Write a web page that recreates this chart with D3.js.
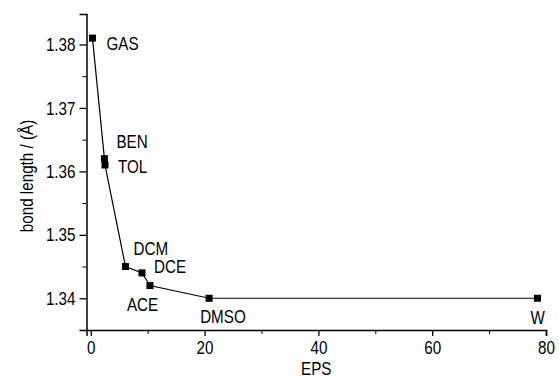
<!DOCTYPE html>
<html>
<head>
<meta charset="utf-8">
<script src="https://cdn.jsdelivr.net/npm/d3@7"></script>
<style>
   body { margin: 0; background: #fff; }
   svg text { font-family: "Liberation Sans", Arial, sans-serif; fill: #000; }
</style>
</head>
<body>
<div id="chart"></div>
<script>
// solvents, dielectric constant (eps) and bond length
const solvents = ["GAS", "BEN", "TOL", "DCM", "DCE", "ACE", "DMSO", "W"];
const eps = [0.3, 2.4, 2.5, 6.1, 9.0, 10.4, 20.8, 78.5];
const bondLength = [1.381, 1.362, 1.361, 1.345, 1.344, 1.342, 1.340, 1.340];

const xTicks = [0, 20, 40, 60, 80];
const xMinor = [10, 30, 50, 70];
const yTicks = [1.34, 1.35, 1.36, 1.37, 1.38];
const yMinor = [1.345, 1.355, 1.365, 1.375];

// label placement relative to each point (px)
const labelOffset = {
   GAS: [14, 12], BEN: [12, -11], TOL: [13, 8], DCM: [8, -12],
   DCE: [12, 0], ACE: [-23, 25], DMSO: [-9, 25], W: [-7, 26]
};

const width = 559;
const height = 378;
const margin = { top: 14, right: 13, bottom: 48, left: 86.5 };

const svg = d3.select("#chart")
   .append("svg")
   .attr("width", width)
   .attr("height", height);

const x = d3.scaleLinear()
   .domain([-0.75, 80])
   .range([margin.left, width - margin.right]);

const y = d3.scaleLinear()
   .domain([1.335, 1.3848])
   .range([height - margin.bottom, margin.top]);

const fontSize = "19px";

// the reference uses a condensed face; squeeze the glyphs instead
const narrow = (sel) => {
   sel.each(function () {
      const w = this.getComputedTextLength();
      d3.select(this).attr("textLength", w * 0.8).attr("lengthAdjust", "spacingAndGlyphs");
   });
}

const xAxis = (g) => {
   g.attr("transform", `translate(0,${height - margin.bottom})`)
      .call(d3.axisBottom(x).tickValues(xTicks).tickSize(6).tickPadding(5).tickFormat(d3.format("d")))
      .call(g => g.select(".domain").attr("stroke-width", 1.5))
      .call(g => g.selectAll(".tick line").attr("stroke-width", 1.3))
      .call(g => g.selectAll("text").style("font-size", fontSize));
}

const yAxis = (g) => {
   g.attr("transform", `translate(${margin.left},0)`)
      .call(d3.axisLeft(y).tickValues(yTicks).tickSize(7).tickPadding(4).tickFormat(d3.format(".2f")))
      .call(g => g.select(".domain").attr("stroke-width", 1.5))
      .call(g => g.selectAll(".tick line").attr("stroke-width", 1.3))
      .call(g => g.selectAll("text").style("font-size", fontSize));
}

svg.append("g")
   .attr("transform", `translate(0,${height - margin.bottom})`)
   .call(d3.axisBottom(x).tickValues(xMinor).tickSize(4).tickFormat(""))
   .call(g => g.select(".domain").remove());

svg.append("g")
   .attr("transform", `translate(${margin.left},0)`)
   .call(d3.axisLeft(y).tickValues(yMinor).tickSize(4).tickFormat(""))
   .call(g => g.select(".domain").remove());

svg.append("g").attr("class", "x-axis").call(xAxis);
svg.append("g").attr("class", "y-axis").call(yAxis);

svg.selectAll(".tick line").attr("stroke", "#000");
svg.selectAll(".domain").attr("stroke", "#000");

// axis titles
svg.append("text")
   .attr("x", (margin.left + width - margin.right) / 2)
   .attr("y", height - 3)
   .attr("text-anchor", "middle")
   .style("font-size", fontSize)
   .text("EPS");

svg.append("text")
   .attr("transform", `translate(33,${(margin.top + height - margin.bottom) / 2 + 4}) rotate(-90)`)
   .attr("text-anchor", "middle")
   .style("font-size", fontSize)
   .text("bond length / (Å)");

const points = solvents.map((s, i) => [x(eps[i]), y(bondLength[i]), s]);

svg.append("path")
   .datum(points)
   .attr("fill", "none")
   .attr("stroke", "#000")
   .attr("stroke-width", 1.2)
   .attr("d", d3.line());

const sq = 7;
svg.append("g")
   .selectAll("rect")
   .data(points)
   .join("rect")
   .attr("x", d => d[0] - sq / 2)
   .attr("y", d => d[1] - sq / 2)
   .attr("width", sq)
   .attr("height", sq)
   .attr("fill", "#000");

svg.append("g")
   .selectAll("text")
   .data(points)
   .join("text")
   .attr("x", d => d[0] + labelOffset[d[2]][0])
   .attr("y", d => d[1] + labelOffset[d[2]][1])
   .style("font-size", fontSize)
   .text(d => d[2]);

svg.selectAll("text").call(narrow);
</script>
</body>
</html>
